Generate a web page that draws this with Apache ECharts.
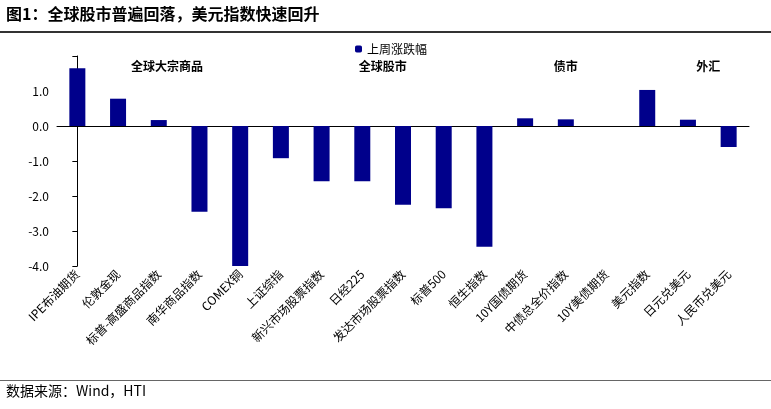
<!DOCTYPE html>
<html><head><meta charset="utf-8">
<script src="https://cdn.jsdelivr.net/npm/echarts@6/dist/echarts.min.js"></script>
<style>html,body{margin:0;padding:0;background:#fff}#c{width:771px;height:409px}</style>
</head><body><div id="c"></div>
<script>
const categories = ['IPE布油期货','伦敦金现','标普-高盛商品指数','南华商品指数','COMEX铜','上证综指','新兴市场股票指数','日经225','发达市场股票指数','标普500','恒生指数','10Y国债期货','中债总全价指数','10Y美债期货','美元指数','日元兑美元','人民币兑美元'];
const weeklyChange = [1.65,0.78,0.17,-2.45,-4.02,-0.92,-1.58,-1.58,-2.25,-2.35,-3.45,0.22,0.19,0,1.03,0.18,-0.6];
const groupNames = ['全球大宗商品','全球股市','债市','外汇'];
const groupCenters = [2.2,7.5,12,15.5];
const separators = [4.5,10.5,13.5];

const chart = echarts.init(document.getElementById('c'));
const font = '"Noto Sans CJK SC", sans-serif';
chart.setOption({
  animation:false,
  textStyle:{fontFamily:font},
  graphic:[
    {type:'text',left:6,top:6,style:{text:'图1：全球股市普遍回落，美元指数快速回升',font:'bold 16px "Noto Sans CJK SC"',fill:'#000'}},
    {type:'rect',shape:{x:0,y:31,width:771,height:2},style:{fill:'#333'}},
    {type:'rect',shape:{x:0,y:380,width:771,height:1},style:{fill:'#666'}},
    {type:'text',left:6,top:384,style:{text:'数据来源：Wind，HTI',font:'14px "Noto Sans CJK SC"',fill:'#000'}}
  ],
  legend:{top:38,left:350,itemWidth:7,itemHeight:7,textStyle:{fontSize:12,color:'#000'},data:['上周涨跌幅']},
  grid:{left:57,right:22,top:56,bottom:143},
  xAxis:[
    {type:'category',data:categories,axisLine:{onZero:true,lineStyle:{color:'#000'}},axisTick:{show:false},axisLabel:{show:false}},
    {type:'category',data:categories,position:'bottom',offset:0,axisLine:{show:false},axisTick:{show:false},
     axisLabel:{rotate:45,interval:0,color:'#000',fontSize:12,margin:6}},
    {type:'value',min:-0.5,max:16.5,show:false}
  ],
  yAxis:{type:'value',min:-4,max:2,interval:1,splitLine:{show:false},
    axisLine:{show:true,lineStyle:{color:'#000'}},axisTick:{show:true},
    axisLabel:{color:'#000',fontSize:12,formatter:v=>v===2?'':v.toFixed(1)}},
  series:[
    {name:'上周涨跌幅',type:'bar',data:weeklyChange,barWidth:16,itemStyle:{color:'#00008B'}},
    {type:'line',xAxisIndex:2,data:[[0,0]],symbol:'none',showSymbol:false,lineStyle:{opacity:0},clip:false,silent:true,
     markLine:{symbol:'none',silent:true,lineStyle:{type:'dashed',color:'#1F3A93',width:1.5},label:{show:false},
       data:separators.map(s=>[{coord:[s,1.35]},{coord:[s,-4.5]}])},
     markPoint:{symbol:'circle',symbolSize:0,
       label:{show:true,color:'#000',fontWeight:'bold',fontSize:12,formatter:p=>p.name},
       data:groupNames.map((n,i)=>({name:n,coord:[groupCenters[i],1.7]}))}}
  ]
});
</script></body></html>
